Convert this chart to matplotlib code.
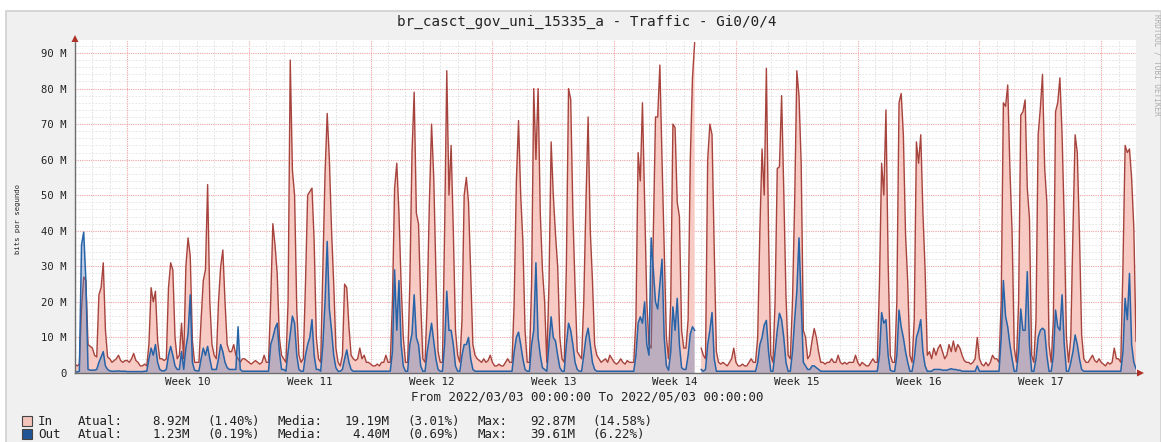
import numpy as np
import matplotlib
matplotlib.use("Agg")
import matplotlib.pyplot as plt
from matplotlib.patches import Rectangle, Polygon

# traffic in Mbit/s, one row per day starting 2022/03/03 00:00, samples every 3 hours
in_mbps = [
    [2.5, 2.0, 2.5, 18, 27, 26, 8, 7.5],        # 03/03
    [7, 5, 4.5, 22, 24, 31, 12, 4.5],
    [4, 3, 3.5, 4, 5, 3.5, 3, 3.5],
    [3.5, 3, 4, 5.5, 3.5, 3, 2, 2],
    [2.5, 2, 8, 24, 20, 23, 9, 4],              # 03/07
    [4, 3.5, 4, 24, 31, 29, 10, 4],
    [5, 14, 4, 30, 38, 33, 9, 3],
    [3, 3, 15, 26, 29, 53, 20, 8],
    [5, 4, 20, 30, 34.6, 20, 8, 6],
    [6, 8, 5, 4, 3, 4, 4, 3.5],
    [3, 2.5, 3, 3.5, 3, 2.5, 3, 5],
    [3, 3, 20, 42, 36, 28, 10, 5],              # 03/14
    [4, 3, 20, 88, 57, 50, 18, 5],
    [3, 4, 25, 50, 51, 52, 37, 10],
    [4, 3, 30, 56, 73, 60, 40, 25],
    [7, 3, 2, 5, 25, 24, 13, 5],
    [4, 3.5, 4, 7, 4, 5, 3, 3],
    [2.5, 2, 2, 2.5, 2, 3, 3, 5],
    [3, 3, 20, 52, 59, 45, 25, 10],             # 03/21
    [3, 3, 25, 62, 79, 45, 42, 20],
    [4, 3, 20, 48, 70, 55, 28, 6],
    [3, 3, 40, 85, 50, 64, 40, 12],
    [5, 3, 15, 50, 55, 48, 28, 8],
    [5, 4, 3.5, 3, 4, 3, 3.5, 5],
    [3, 2, 2, 2.5, 2, 2, 3, 4],
    [3, 3, 20, 54, 71, 50, 37, 12],             # 03/28
    [3, 3, 25, 80, 60, 80, 45, 29],
    [20, 3, 25, 65, 50, 39, 30, 10],
    [4, 3, 30, 80, 77, 45, 24, 6],
    [5, 4, 20, 48, 72, 40, 26, 8],
    [5, 4, 3, 3.5, 4, 3, 5, 4],
    [3, 2.5, 3, 4, 3, 2.5, 3.5, 3],
    [3, 3, 15, 62, 54, 76, 48, 20],             # 04/04
    [8, 7, 40, 72, 72, 86.6, 60, 35],
    [10, 4, 20, 70, 69, 48, 44, 12],
    [7, 7, 15, 60, 83, 92.87, np.nan, np.nan],
    [7, 5, 4, 60, 70, 67, 35, 6],
    [3, 2.5, 3, 2.5, 2, 3, 4, 7],
    [3, 2, 2, 2.5, 2, 2, 3, 4],
    [3, 3, 10, 40, 63, 50, 85.7, 39],           # 04/11
    [5, 3, 20, 57.5, 58, 78, 51, 22],
    [5, 4, 20, 48, 85, 78, 59, 12],
    [10, 4, 5, 9, 12.5, 10, 6, 3],
    [3, 2.5, 3, 3, 4, 3, 3, 5],
    [3, 2.5, 3, 2.5, 3, 3, 3, 5],
    [3, 2, 3, 2.5, 2, 2, 3, 4],
    [3, 3, 25, 59, 50, 74, 31, 5],              # 04/18
    [3, 3, 20, 76, 78.6, 67, 39, 25.7],
    [5, 3, 15, 65, 59, 67, 45, 29],
    [5, 6, 4, 7, 5, 7, 8, 6],
    [4, 5, 8, 6, 9, 6, 8, 7],
    [5, 3.5, 3, 3, 2.5, 3, 4, 10],
    [4, 2.5, 2, 3, 2, 3, 5, 4],
    [4, 3, 20, 76, 75, 81, 57.5, 39.7],         # 04/25
    [7, 3, 20, 72.5, 73.5, 76.8, 52, 43.5],
    [5, 3, 15, 67, 74.4, 84, 57.5, 48],
    [8, 3, 15, 73.5, 76, 83, 67, 42.5],
    [10, 3, 10, 40, 67, 62, 39, 10.7],
    [4, 3, 3, 4, 5, 3.5, 3, 4],
    [3, 2.5, 2, 3, 2.5, 3, 7, 4],
    [4, 3, 30, 64, 62, 63, 54.7, 40.7],         # 05/02
]
out_mbps = [
    [0.3, 0.3, 0.5, 36, 39.61, 26, 1.0, 0.8],
    [0.8, 0.8, 1, 3, 4.5, 6, 2, 1],
    [0.6, 0.5, 0.5, 0.5, 0.6, 0.5, 0.5, 0.5],
    [0.4, 0.4, 0.4, 0.4, 0.4, 0.4, 0.4, 0.4],
    [0.5, 0.5, 4, 7, 5, 8, 3, 1],
    [0.6, 0.6, 1, 5, 7.5, 5, 2, 1],
    [1, 6, 1, 7, 11, 22, 3, 0.8],
    [0.6, 0.6, 4, 7, 5, 7.5, 4, 1],
    [1, 1, 4, 8, 6, 3, 1.5, 1],
    [1, 1, 1, 13, 1, 0.5, 0.5, 0.5],
    [0.5, 0.5, 0.5, 0.5, 0.5, 0.5, 0.5, 0.5],
    [0.5, 0.5, 8, 10, 12.5, 14, 6, 1],
    [1, 0.5, 6, 11, 16, 14, 5, 1],
    [0.5, 0.5, 5, 8, 10, 15, 5, 1],
    [1, 0.5, 8, 20, 37, 18, 12, 5],
    [1.5, 0.5, 0.5, 1, 4, 6.5, 3, 1],
    [0.5, 0.5, 0.5, 0.5, 0.5, 0.5, 0.5, 0.5],
    [0.5, 0.5, 0.5, 0.5, 0.5, 0.5, 0.5, 0.5],
    [0.5, 0.5, 6, 29, 12, 26, 8, 2],
    [0.5, 0.5, 8, 11, 22, 10, 8, 2],
    [0.5, 0.5, 6, 10, 14, 9, 4, 1],
    [0.5, 0.5, 8, 23, 12, 12, 8, 2],
    [0.5, 0.5, 5, 8, 8, 10, 4, 1],
    [0.5, 0.5, 0.5, 0.5, 0.5, 0.5, 0.5, 0.5],
    [0.5, 0.5, 0.5, 0.5, 0.5, 0.5, 0.5, 0.5],
    [0.5, 0.5, 6, 10, 11.5, 8, 4, 1],
    [0.5, 0.5, 8, 12, 31, 10, 5, 1.5],
    [1, 0.5, 8, 15.8, 10, 9, 5, 1.5],
    [0.5, 0.5, 8, 14, 12, 8, 3, 1],
    [0.5, 0.5, 5, 10, 12.6, 8, 3, 1],
    [0.5, 0.5, 0.5, 0.5, 0.5, 0.5, 0.5, 0.5],
    [0.5, 0.5, 0.5, 0.5, 0.5, 0.5, 0.5, 0.5],
    [0.5, 0.5, 5, 14, 15.8, 14, 20, 8],
    [5, 38, 29, 20, 18, 25, 32, 10],
    [2, 0.8, 6, 18.6, 12, 21, 8, 1.5],
    [1, 1, 5, 11, 13, 12, np.nan, np.nan],
    [1, 0.5, 1, 8, 12, 17, 4, 0.5],
    [0.5, 0.5, 0.5, 0.5, 0.5, 0.5, 0.5, 0.5],
    [0.5, 0.5, 0.5, 0.5, 0.5, 0.5, 0.5, 0.5],
    [0.5, 0.5, 3, 8, 10, 13.5, 14.8, 6],
    [0.5, 0.5, 6, 12, 16.8, 15, 10, 3],
    [0.5, 0.5, 6, 15, 23, 38, 20, 3],
    [2, 1, 1, 2, 2, 1.5, 1, 0.5],
    [0.5, 0.5, 0.5, 0.5, 0.5, 0.5, 0.5, 0.5],
    [0.5, 0.5, 0.5, 0.5, 0.5, 0.5, 0.5, 0.5],
    [0.5, 0.5, 0.5, 0.5, 0.5, 0.5, 0.5, 0.5],
    [0.5, 0.5, 5, 17, 14, 15, 5, 0.8],
    [0.5, 0.5, 5, 17.7, 13, 10, 6, 3],
    [0.5, 0.5, 4, 10, 12, 15, 6, 2],
    [0.5, 0.5, 0.5, 1, 1, 1, 1, 0.8],
    [0.8, 0.8, 1, 1.2, 1, 1, 0.8, 0.8],
    [0.5, 0.5, 0.5, 0.5, 0.5, 0.5, 0.5, 2],
    [0.5, 0.5, 0.5, 0.5, 0.5, 0.5, 0.5, 0.5],
    [0.5, 0.5, 10, 26, 16, 13, 8, 4],
    [0.5, 0.5, 6, 18, 12, 12, 28.5, 8],
    [0.5, 0.5, 4, 10, 12, 12.6, 12, 5],
    [0.5, 0.5, 5, 17.7, 13, 12, 22, 8],
    [0.5, 0.5, 3, 6, 10.7, 8, 4, 1],
    [0.5, 0.5, 0.5, 0.5, 0.5, 0.5, 0.5, 0.5],
    [0.5, 0.5, 0.5, 0.5, 0.5, 0.5, 0.5, 0.5],
    [0.5, 0.5, 6, 21, 15, 28, 8, 3],
]
in_last, out_last = 8.92, 1.23   # value at 2022/05/03 00:00

week_labels = ["Week 10", "Week 11", "Week 12", "Week 13",
               "Week 14", "Week 15", "Week 16", "Week 17"]
ytick_labels = ["0", "10 M", "20 M", "30 M", "40 M", "50 M",
                "60 M", "70 M", "80 M", "90 M"]

title = "br_casct_gov_uni_15335_a - Traffic - Gi0/0/4"
period = "From 2022/03/03 00:00:00 To 2022/05/03 00:00:00"
legend_rows = [
    ("In", "8.92M", "(1.40%)", "19.19M", "(3.01%)", "92.87M", "(14.58%)"),
    ("Out", "1.23M", "(0.19%)", "4.40M", "(0.69%)", "39.61M", "(6.22%)"),
]

# ---------------------------------------------------------------
inn = np.append(np.array(in_mbps, dtype=float).ravel(), in_last)
out = np.append(np.array(out_mbps, dtype=float).ravel(), out_last)
t = np.arange(len(inn)) / 8.0          # days since 03/03
ndays = len(in_mbps)

W, H = 1161, 442
fig = plt.figure(figsize=(W / 100, H / 100), dpi=100, facecolor="white")
fig.patches.append(Rectangle((6 / W, -0.05), (W - 6) / W, 1.05 - 11 / H,
                             transform=fig.transFigure, facecolor="#F0F0F0",
                             edgecolor="#D0D0D0", lw=1.2, zorder=-5))

def ftext(x, y, s, **kw):
    kw.setdefault("family", "DejaVu Sans Mono")
    kw.setdefault("color", "#222222")
    fig.text(x / W, 1 - y / H, s, **kw)

x0, x1, y0, y1 = 75, 1136, 373, 40
ax = fig.add_axes([x0 / W, 1 - y0 / H, (x1 - x0) / W, (y0 - y1) / H])
ax.set_zorder(1)
ax.set_facecolor("white")
ax.set_xlim(0, ndays)
ax.set_ylim(0, 93.65)

# grid
for d in range(1, ndays):
    if (d - 3) % 7 == 0:
        ax.axvline(d, color="#F2A3A3", lw=0.8, ls=(0, (1, 1)), zorder=1)
    else:
        ax.axvline(d, color="#DCDCDC", lw=0.6, ls=(0, (2, 2)), zorder=1)
for v in range(2, 94, 2):
    if v % 10 == 0:
        ax.axhline(v, color="#F2A3A3", lw=0.8, ls=(0, (1, 1)), zorder=1)
    else:
        ax.axhline(v, color="#E2E2E2", lw=0.6, ls=(0, (2, 2)), zorder=1)

# data
ax.fill_between(t, 0, inn, color="#F7CBC3", lw=0, zorder=2)
ax.plot(t, inn, color="#A7433D", lw=1.0, zorder=3)
ax.fill_between(t, 0, out, color="#5C7FBB", alpha=0.38, lw=0, zorder=4)
ax.plot(t, out, color="#2763A8", lw=1.1, zorder=5)

# axes
for s in ["top", "right"]:
    ax.spines[s].set_visible(False)
for s in ["left", "bottom"]:
    ax.spines[s].set_color("#6E6E6E")
    ax.spines[s].set_linewidth(1.0)
    ax.spines[s].set_zorder(6)

ax.set_yticks(range(0, 91, 10))
ax.set_yticklabels(ytick_labels, family="DejaVu Sans Mono", fontsize=7.6, color="#222222")
ax.set_xticks([6.5 + 7 * k for k in range(len(week_labels))])
ax.set_xticklabels(week_labels, family="DejaVu Sans Mono", fontsize=7.8, color="#222222")
ax.tick_params(axis="y", length=0, pad=5.8)
ax.tick_params(axis="x", length=0, pad=3.0)

# arrow heads
fig.patches.append(Polygon([[(x0 - 3.5) / W, 1 - 42 / H], [(x0 + 3.5) / W, 1 - 42 / H],
                            [x0 / W, 1 - 35 / H]], closed=True, transform=fig.transFigure,
                           facecolor="#B0302A", edgecolor="none", zorder=7))
fig.patches.append(Polygon([[(x1 + 1) / W, 1 - (y0 - 3.5) / H], [(x1 + 1) / W, 1 - (y0 + 3.5) / H],
                            [(x1 + 8) / W, 1 - y0 / H]], closed=True, transform=fig.transFigure,
                           facecolor="#B0302A", edgecolor="none", zorder=7))

# texts
ftext(587, 22, title, fontsize=10.3, ha="center", va="center")
ftext(18, 219, "bits por segundo", fontsize=5.2, rotation=90, ha="center", va="center")
ftext(587, 397, period, fontsize=9.0, ha="center", va="center")
ftext(1157, 65, "RRDTOOL / TOBI OETIKER", fontsize=5.5, rotation=270,
      ha="center", va="center", color="#ADADAD")

sq_colors = ["#F2C4BC", "#1F5496"]
for i, row in enumerate(legend_rows):
    yb = 425 + 13 * i
    fig.patches.append(Rectangle((22 / W, 1 - (yb + 1) / H), 10 / W, 10 / H,
                                 transform=fig.transFigure, facecolor=sq_colors[i],
                                 edgecolor="#444444", lw=0.8, zorder=7))
    name, cur, curp, avg, avgp, mx, mxp = row
    kw = dict(fontsize=9.0, va="baseline")
    ftext(38, yb, name, **kw)
    ftext(78, yb, "Atual:", **kw)
    ftext(190, yb, cur, ha="right", **kw)
    ftext(207, yb, curp, **kw)
    ftext(277, yb, "Media:", **kw)
    ftext(390, yb, avg, ha="right", **kw)
    ftext(407, yb, avgp, **kw)
    ftext(477, yb, "Max:", **kw)
    ftext(575, yb, mx, ha="right", **kw)
    ftext(592, yb, mxp, **kw)

fig.savefig("out.png", dpi=100, facecolor=fig.get_facecolor())
